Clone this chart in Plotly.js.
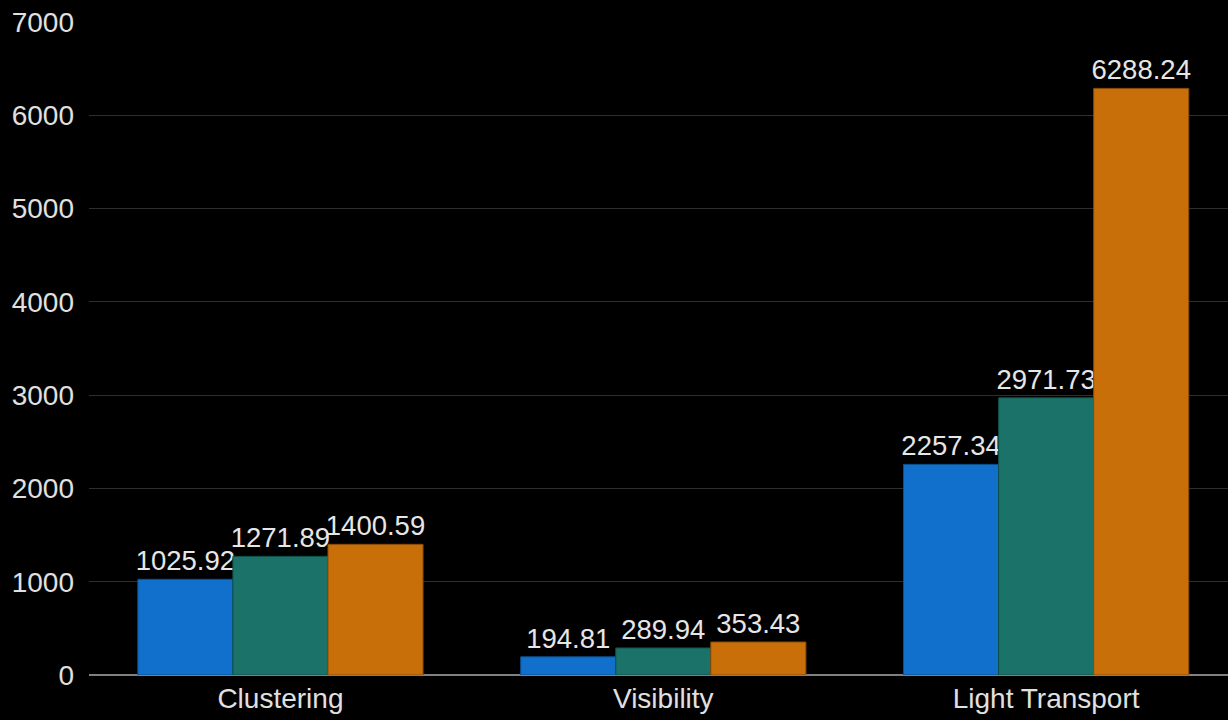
<!DOCTYPE html>
<html>
<head>
<meta charset="utf-8">
<script src="https://cdn.plot.ly/plotly-3.0.1.min.js"></script>
<style>html,body{margin:0;padding:0;background:#000;}#chart{width:1228px;height:720px;}</style>
</head>
<body>
<div id="chart"></div>
<script>
const categories = ["Clustering", "Visibility", "Light Transport"];
const seriesA = [1025.92, 194.81, 2257.34];
const seriesB = [1271.89, 289.94, 2971.73];
const seriesC = [1400.59, 353.43, 6288.24];
const seriesNames = ["Series 1", "Series 2", "Series 3"];
const colors = ["#1070cc", "#1a7268", "#c96f0a"];
const lineColors = ["#0d4f8f", "#10504a", "#8a4c06"];

const allSeries = [seriesA, seriesB, seriesC];
const traces = allSeries.map((vals, i) => ({
  type: "bar",
  name: seriesNames[i],
  x: categories,
  y: vals,
  text: vals.map(v => v.toFixed(2)),
  textposition: "outside",
  constraintext: "none",
  cliponaxis: false,
  textfont: {family: "Liberation Sans, Arial, sans-serif", size: 27.5, color: "#e6e6e6"},
  marker: {color: colors[i], line: {color: lineColors[i], width: 1}}
}));

const layout = {
  width: 1228, height: 720,
  paper_bgcolor: "#000", plot_bgcolor: "#000",
  margin: {l: 89, r: 0, t: 22, b: 45},
  showlegend: false,
  barmode: "group",
  bargap: 0.255,
  bargroupgap: 0,
  font: {family: "Liberation Sans, Arial, sans-serif", size: 28, color: "#e0e0e0"},
  xaxis: {
    range: [-0.5, 2.475],
    showgrid: false,
    showline: false,
    ticks: "",
    ticklabelstandoff: 4,
    tickfont: {size: 28, color: "#e0e0e0"}
  },
  yaxis: {
    range: [0, 7000],
    dtick: 1000,
    gridcolor: "#2e2e2e",
    gridwidth: 1,
    zeroline: true,
    zerolinecolor: "#808080",
    zerolinewidth: 1.5,
    ticks: "",
    ticklabelstandoff: 14,
    tickfont: {size: 28, color: "#e0e0e0"}
  }
};

Plotly.newPlot("chart", traces, layout, {displayModeBar: false, staticPlot: true});
</script>
</body>
</html>
